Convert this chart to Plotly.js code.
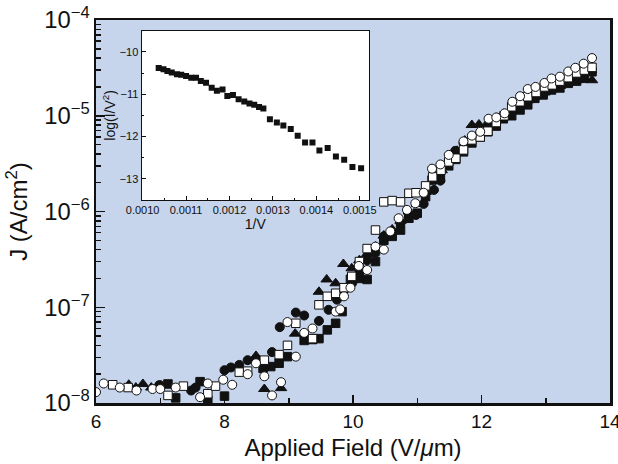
<!DOCTYPE html>
<html><head><meta charset="utf-8">
<script src="https://cdn.plot.ly/plotly-3.0.1.min.js"></script>
<style>html,body{margin:0;padding:0;background:#fff}</style>
</head><body><div id="chart" style="width:618px;height:464px"></div>
<script>
// Main chart: applied field (V/um) vs current density J (A/cm^2)
const openCircleX = [6.00,6.12,6.37,6.63,6.88,7.00,7.24,7.62,7.74,7.98,8.12,8.36,8.49,8.62,8.74,8.88,8.98,9.11,9.24,9.37,9.73,9.80,9.86,9.96,10.09,10.22,10.35,10.48,10.58,10.71,10.84,10.97,11.10,11.23,11.36,11.49,11.72,11.85,11.98,12.11,12.23,12.36,12.48,12.60,12.72,12.84,12.98,13.09,13.22,13.35,13.46,13.59,13.72];
const openCircleJ = [1.3e-8,1.6e-8,1.45e-8,1.35e-8,1.4e-8,1.4e-8,1.45e-8,1.15e-8,1.6e-8,1.75e-8,1.55e-8,2.0e-8,2.6e-8,1.9e-8,1.2e-8,1.65e-8,7.0e-8,3.05e-8,5.4e-8,6.0e-8,9.0e-8,9.5e-8,1.3e-7,1.6e-7,2.7e-7,2.45e-7,4.3e-7,4.0e-7,6.2e-7,8.5e-7,1.04e-6,1.22e-6,1.57e-6,2.8e-6,3.1e-6,3.9e-6,5.4e-6,6.2e-6,6.8e-6,9.3e-6,9.6e-6,1.06e-5,1.4e-5,1.6e-5,1.9e-5,2.0e-5,2.2e-5,2.45e-5,2.56e-5,2.9e-5,3.17e-5,3.5e-5,4.0e-5];

const openSquareX = [6.26,6.50,7.12,7.36,7.74,7.86,8.23,8.36,8.62,8.85,8.98,9.11,9.37,9.47,9.60,9.73,9.86,9.98,10.10,10.22,10.35,10.48,10.61,10.74,10.87,10.98,11.13,11.24,11.37,11.49,11.60,11.72,11.85,11.98,12.10,12.23,12.35,12.47,12.60,12.72,12.85,12.98,13.10,13.22,13.35,13.48,13.60,13.72];
const openSquareJ = [1.55e-8,1.45e-8,1.2e-8,1.5e-8,1.25e-8,1.5e-8,2.1e-8,2.15e-8,2.8e-8,3.2e-8,4.0e-8,6.8e-8,4.7e-8,1.06e-7,1.3e-7,1.4e-7,1.6e-7,2.1e-7,3.0e-7,4.1e-7,6.4e-7,1.26e-6,1.3e-6,1.26e-6,1.55e-6,1.57e-6,1.85e-6,2.3e-6,2.7e-6,3.3e-6,3.6e-6,4.4e-6,5.6e-6,6.0e-6,6.9e-6,8.5e-6,1.0e-5,1.24e-5,1.4e-5,1.58e-5,1.75e-5,2.0e-5,2.1e-5,2.3e-5,2.5e-5,2.8e-5,3.0e-5,3.2e-5];

const filledCircleX = [6.99,7.48,7.55,8.00,8.10,8.23,8.36,8.49,8.74,8.86,9.11,9.24,9.47,9.62,9.75,9.86,9.99,10.10,10.22,10.35,10.48,10.61,10.74,10.87,10.98,11.10,11.26,11.36,11.49,11.59,11.72,11.85,11.98,12.10,12.23,12.35,12.47,12.60,12.72,12.85,12.98,13.10,13.22,13.35,13.48,13.60,13.72];
const filledCircleJ = [1.54e-8,1.35e-8,1.45e-8,2.2e-8,2.35e-8,2.5e-8,2.8e-8,2.9e-8,3.4e-8,6.2e-8,8.8e-8,8.2e-8,7.2e-8,9.4e-8,1.2e-7,1.5e-7,1.8e-7,2.3e-7,3.1e-7,3.7e-7,5.5e-7,6.15e-7,7.5e-7,8.8e-7,9.2e-7,1.2e-6,1.68e-6,2.1e-6,3.4e-6,4.3e-6,5.2e-6,5.8e-6,6.6e-6,7.5e-6,8.5e-6,9.5e-6,1.1e-5,1.25e-5,1.45e-5,1.6e-5,1.75e-5,1.9e-5,2.05e-5,2.25e-5,2.45e-5,2.65e-5,2.9e-5];

const filledSquareX = [7.12,7.24,7.62,7.74,8.00,8.60,8.72,8.85,8.98,9.24,9.37,9.47,9.60,9.73,9.83,9.96,10.09,10.22,10.35,10.48,10.61,10.74,10.87,11.00,11.13,11.23,11.36,11.49,11.60,11.72,11.85,11.98,12.10,12.23,12.34,12.47,12.60,12.72,12.83,12.96,13.09,13.22,13.35,13.48,13.59,13.72];
const filledSquareJ = [1.58e-8,1.13e-8,1.67e-8,1.07e-8,1.18e-8,2.3e-8,2.4e-8,2.6e-8,3.05e-8,4.5e-8,4.6e-8,4.7e-8,5.8e-8,6.8e-8,9.0e-8,1.96e-7,2.0e-7,1.95e-7,3.0e-7,5.0e-7,5.5e-7,6.4e-7,8.5e-7,9.6e-7,1.43e-6,2.13e-6,2.24e-6,3.0e-6,3.5e-6,4.2e-6,5.2e-6,6.0e-6,6.8e-6,7.8e-6,9.3e-6,1.0e-5,1.15e-5,1.3e-5,1.52e-5,1.65e-5,1.86e-5,1.95e-5,2.18e-5,2.3e-5,2.46e-5,2.88e-5];

const triangleX = [6.51,6.62,6.73,6.86,6.95,8.49,8.62,8.88,9.10,9.47,9.59,9.73,9.85,9.98,10.10,10.22,10.35,10.48,10.61,10.74,10.87,11.00,11.13,11.26,11.38,11.50,11.62,11.74,11.85,11.96,12.10,12.23,12.35,12.47,12.60,12.72,12.85,12.98,13.10,13.22,13.35,13.48,13.60,13.72];
const triangleJ = [1.55e-8,1.45e-8,1.58e-8,1.45e-8,1.5e-8,3.1e-8,1.4e-8,1.43e-8,5.3e-8,1.45e-7,1.95e-7,1.78e-7,2.83e-7,2.55e-7,3.1e-7,3.6e-7,4.3e-7,5.6e-7,6.5e-7,8.0e-7,1.0e-6,1.2e-6,1.6e-6,2.1e-6,2.7e-6,3.4e-6,4.3e-6,5.5e-6,8.0e-6,8.1e-6,8.5e-6,9.5e-6,1.05e-5,1.15e-5,1.3e-5,1.45e-5,1.6e-5,1.75e-5,1.9e-5,2.05e-5,2.2e-5,2.35e-5,2.5e-5,2.35e-5];

// Inset: Fowler-Nordheim plot, 1/V vs log(I/V^2)
const insetX = [0.001037,0.001048,0.001057,0.001067,0.001079,0.001089,0.001100,0.001112,0.001123,0.001134,0.001146,0.001159,0.001171,0.001184,0.001195,0.001208,0.001221,0.001234,0.001246,0.001257,0.001268,0.001278,0.001293,0.001309,0.001324,0.001341,0.001357,0.001374,0.001391,0.001407,0.001426,0.001445,0.001464,0.001483,0.001503];
const insetY = [-10.38,-10.41,-10.45,-10.49,-10.53,-10.54,-10.57,-10.61,-10.61,-10.69,-10.73,-10.85,-10.92,-10.89,-11.04,-11.02,-11.12,-11.17,-11.22,-11.25,-11.30,-11.34,-11.59,-11.67,-11.74,-11.82,-11.98,-12.14,-12.14,-12.33,-12.27,-12.47,-12.55,-12.72,-12.75];

const xTickVals = [6, 8, 10, 12, 14];
const insetXTicks = [0.0010, 0.0011, 0.0012, 0.0013, 0.0014, 0.0015];
const insetYTicks = [-10, -11, -12, -13];

const FONT = 'Liberation Sans, Arial, sans-serif';
const mk = (sym, fill, size) => ({symbol: sym, size: size, color: fill, line: {color: '#111', width: 1}});

const traces = [
  {x: triangleX, y: triangleJ, type: 'scatter', mode: 'markers', marker: mk('triangle-up', '#111', 10), xaxis: 'x', yaxis: 'y'},
  {x: filledSquareX, y: filledSquareJ, type: 'scatter', mode: 'markers', marker: mk('square', '#111', 8.5), xaxis: 'x', yaxis: 'y'},
  {x: filledCircleX, y: filledCircleJ, type: 'scatter', mode: 'markers', marker: mk('circle', '#111', 9), xaxis: 'x', yaxis: 'y'},
  {x: openSquareX, y: openSquareJ, type: 'scatter', mode: 'markers', marker: mk('square', '#fff', 8.5), xaxis: 'x', yaxis: 'y'},
  {x: openCircleX, y: openCircleJ, type: 'scatter', mode: 'markers', marker: mk('circle', '#fff', 9), xaxis: 'x', yaxis: 'y'},
  {x: insetX, y: insetY, type: 'scatter', mode: 'markers', marker: {symbol: 'square', size: 6, color: '#111'}, xaxis: 'x2', yaxis: 'y2'}
];

const layout = {
  width: 618, height: 464,
  margin: {l: 96, r: 8, t: 20, b: 61},
  paper_bgcolor: '#ffffff',
  plot_bgcolor: 'rgba(0,0,0,0)',
  showlegend: false,
  font: {family: FONT, color: '#111'},
  shapes: [
    {type: 'rect', xref: 'x domain', yref: 'y domain', x0: 0, x1: 1, y0: 0, y1: 1, fillcolor: '#c6d4ec', line: {width: 0}, layer: 'below'},
    {type: 'rect', xref: 'x2 domain', yref: 'y2 domain', x0: 0, x1: 1, y0: 0, y1: 1, fillcolor: '#ffffff', line: {width: 0}, layer: 'below'}
  ],
  xaxis: {
    range: [6, 14], tickvals: xTickVals, ticks: 'inside', ticklen: 8, tickwidth: 1.5, tickcolor: '#111',
    ticklabeloverflow: 'allow',
    showline: true, linecolor: '#111', linewidth: 2.5, mirror: true, showgrid: false, zeroline: false,
    tickfont: {size: 19, family: FONT, color: '#111'},
    minor: {dtick: 1, ticks: 'inside', ticklen: 5, tickwidth: 1.5, tickcolor: '#111', showgrid: false},
    title: {text: 'Applied Field (V/<i>μ</i>m)', font: {size: 24, family: FONT, color: '#111'}, standoff: 8},
    automargin: false
  },
  yaxis: {
    type: 'log', range: [-8, -4], dtick: 1, exponentformat: 'power', showexponent: 'all',
    ticks: 'inside', ticklen: 9, tickwidth: 1.5, tickcolor: '#111',
    showline: true, linecolor: '#111', linewidth: 2.5, mirror: true, showgrid: false, zeroline: false,
    tickfont: {size: 19, family: FONT, color: '#111'},
    minor: {dtick: 'D1', ticks: 'inside', ticklen: 5, tickwidth: 1.5, tickcolor: '#111', showgrid: false},
    title: {text: 'J (A/cm<sup>2</sup>)', font: {size: 24, family: FONT, color: '#111'}, standoff: 10},
    automargin: false
  },
  xaxis2: {
    domain: [0.089, 0.531], anchor: 'y2', range: [0.000998, 0.001521],
    tickvals: insetXTicks, ticktext: insetXTicks.map(v => v.toFixed(4)),
    ticks: 'inside', ticklen: 4, tickwidth: 1, tickcolor: '#111',
    showline: true, linecolor: '#111', linewidth: 1.2, mirror: true, showgrid: false, zeroline: false,
    tickfont: {size: 11, family: FONT, color: '#111'},
    minor: {dtick: 0.00005, ticks: 'inside', ticklen: 2.5, tickwidth: 1, tickcolor: '#111', showgrid: false},
    title: {text: '1/V', font: {size: 14, family: FONT, color: '#111'}, standoff: 2},
    automargin: false
  },
  yaxis2: {
    domain: [0.530, 0.972], anchor: 'x2', range: [-13.5, -9.5],
    tickvals: insetYTicks, ticktext: insetYTicks.map(v => '\u2212' + Math.abs(v)),
    ticks: 'inside', ticklen: 4, tickwidth: 1, tickcolor: '#111',
    showline: true, linecolor: '#111', linewidth: 1.2, mirror: true, showgrid: false, zeroline: false,
    tickfont: {size: 11, family: FONT, color: '#111'},
    minor: {dtick: 0.5, ticks: 'inside', ticklen: 2.5, tickwidth: 1, tickcolor: '#111', showgrid: false},
    title: {text: 'log(I/V<sup>2</sup>)', font: {size: 14, family: FONT, color: '#111'}, standoff: 0},
    automargin: false
  }
};

Plotly.newPlot('chart', traces, layout, {displayModeBar: false, staticPlot: true});
</script>
</body></html>
